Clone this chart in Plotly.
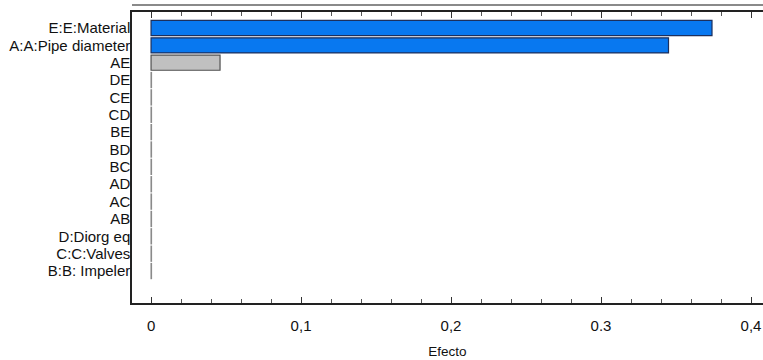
import plotly.graph_objects as go

categories = ["B:B: Impeler", "C:C:Valves", "D:Diorg eq", "AB", "AC", "AD", "BC", "BD",
              "BE", "CD", "CE", "DE", "AE", "A:A:Pipe diameter", "E:E:Material"]
effects = [0.0003, 0.0003, 0.0003, 0.0003, 0.0003, 0.0003, 0.0003, 0.0003,
           0.0003, 0.0003, 0.0003, 0.0003, 0.046, 0.345, 0.374]
bar_colors = ["#c0c0c0"] * 13 + ["#0878f0", "#0878f0"]
line_colors = ["#8a8a8a"] * 12 + ["#505050", "#1c2f5c", "#1c2f5c"]
tick_vals = [0, 0.1, 0.2, 0.3, 0.4]
tick_text = ["0", "0,1", "0,2", "0.3", "0,4"]

fig = go.Figure(go.Bar(
    x=effects, y=categories, orientation="h",
    marker=dict(color=bar_colors, line=dict(color=line_colors, width=1.2)),
))

fig.update_layout(
    width=763, height=360,
    margin=dict(l=132, r=0, t=12, b=57),
    plot_bgcolor="white", paper_bgcolor="white",
    showlegend=False, bargap=0.13,
    font=dict(family="Liberation Sans, Arial, sans-serif", size=13, color="#111"),
    shapes=[dict(type="line", xref="paper", yref="paper", x0=0, x1=1, y0=1.024, y1=1.024,
                 line=dict(color="#8a8a8a", width=2))],
)
fig.update_xaxes(
    range=[-0.0127, 0.408], tickvals=tick_vals, ticktext=tick_text,
    ticks="inside", ticklen=6, tickcolor="#333", tickwidth=1,
    minor=dict(dtick=0.02, ticks="inside", ticklen=4, tickcolor="#555"),
    showline=True, linecolor="#222", linewidth=1.5, mirror="allticks",
    showgrid=False, zeroline=False,
    title=dict(text="Efecto", font=dict(size=13.5), standoff=14),
    tickfont=dict(size=15),
    ticklabelstandoff=8,
)
fig.update_yaxes(
    categoryorder="array", categoryarray=categories,
    tickmode="array", tickvals=categories, ticktext=categories,
    range=[-1.84, 14.92],
    showline=True, linecolor="#222", linewidth=1.5,
    showgrid=False, zeroline=False, ticks="",
    ticklabelstandoff=-3,
    tickfont=dict(size=15),
)
fig.write_html("out.html")
